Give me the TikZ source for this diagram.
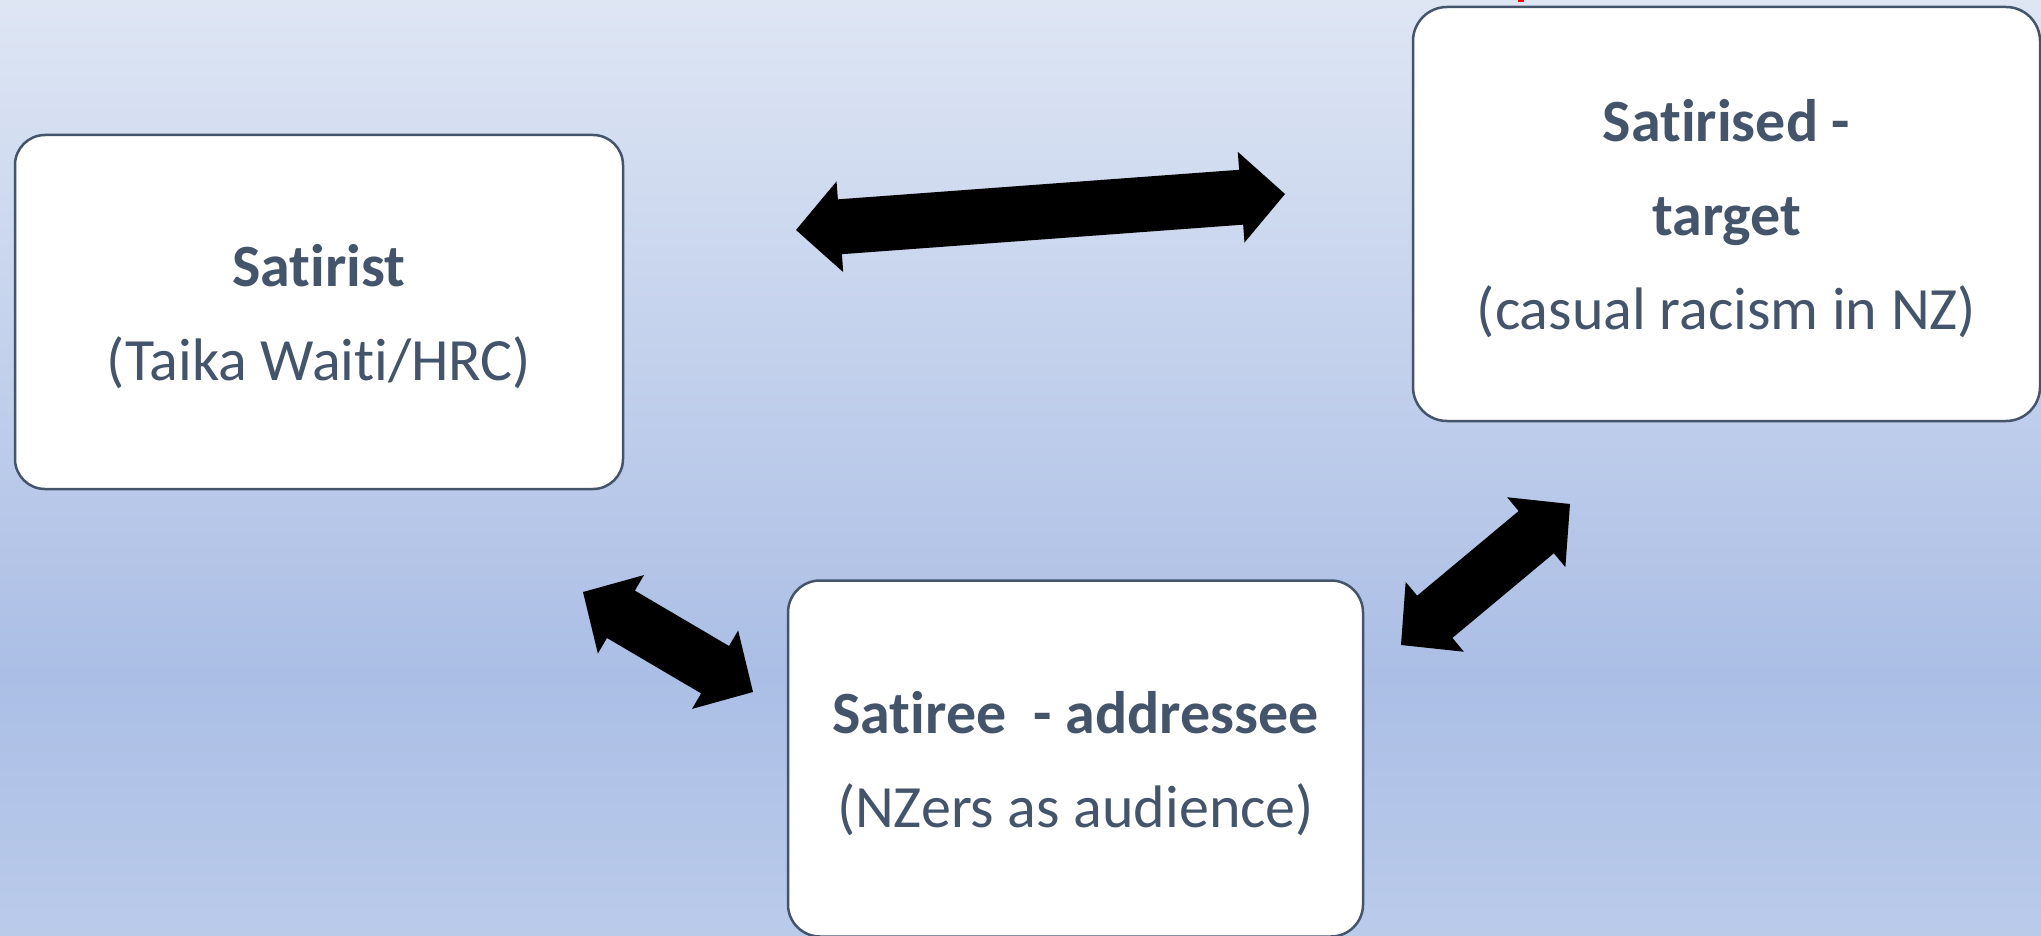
\documentclass[tikz,border=0pt]{standalone}
\usepackage{fontspec}
\setmainfont{Carlito}[Ligatures={NoCommon,NoRequired,NoContextual}]
\usetikzlibrary{calc}

\definecolor{ink}{HTML}{44546A}
\definecolor{bgtop}{RGB}{222,230,244}
\definecolor{bgmid}{RGB}{171,190,229}
\definecolor{bgbot}{RGB}{186,203,234}
% axis shadings are fitted to the middle half (25bp--75bp) of their extent
\pgfdeclareverticalshading{skyfade}{100bp}{color(0bp)=(bgbot); color(25bp)=(bgbot); color(39bp)=(bgmid); color(75bp)=(bgtop); color(100bp)=(bgtop)}

\tikzset{
  card/.style={draw=ink, line width=2.5pt, fill=white, inner sep=0pt,
    text=ink, align=center, font=\fontsize{60}{94}\selectfont},
  fatarrow/.style={fill=black}
}

% keeps t and i as separate glyphs
\newcommand\sep{\kern0pt}
% first-line strut
\newcommand\topstrut{\rule{0pt}{52pt}}

% Double-headed block arrow between two tip coordinates
\newcommand\blockarrow[2]{%
  \fill[fatarrow] (#1)
    -- ($(#1)!44pt!(#2)!45.5pt!90:(#2)$)
    -- ($(#1)!44pt!(#2)!27.5pt!90:(#2)$)
    -- ($(#2)!44pt!(#1)!27.5pt!-90:(#1)$)
    -- ($(#2)!44pt!(#1)!45.5pt!-90:(#1)$)
    -- (#2)
    -- ($(#2)!44pt!(#1)!45.5pt!90:(#1)$)
    -- ($(#2)!44pt!(#1)!27.5pt!90:(#1)$)
    -- ($(#1)!44pt!(#2)!27.5pt!-90:(#2)$)
    -- ($(#1)!44pt!(#2)!45.5pt!-90:(#2)$)
    -- cycle;}

\begin{document}
\begin{tikzpicture}[x=1pt, y=-1pt]
  \useasboundingbox (0,0) rectangle (2041,936);
  \shade[shading=skyfade] (0,0) rectangle (2041,936);
  \fill[red] (1518,0) rectangle (1524,2.5);

  % the three parties
  \node[card, rounded corners=30pt, minimum width=608pt, minimum height=354pt]
    (satirist) at (319,312)
    {\topstrut\textbf{Sat\sep irist}\\(Taika Wait\sep i/HRC)};
  \node[card, rounded corners=34pt, minimum width=627pt, minimum height=414pt]
    (target) at (1726.5,214)
    {\topstrut\textbf{Sat\sep irised -}\\\textbf{target}\\(casual racism in NZ)};
  \node[card, rounded corners=32pt, minimum width=575pt, minimum height=356pt]
    (satiree) at (1075.5,758.5)
    {\topstrut\textbf{Sat\sep iree~ - addressee}\\(NZers as audience)};

  % arrow tips
  \coordinate (top-a) at (796,230);
  \coordinate (top-b) at (1285,194);
  \coordinate (right-a) at (1401,645);
  \coordinate (right-b) at (1570,504);
  \coordinate (left-a) at (583,592);
  \coordinate (left-b) at (753,692);

  \blockarrow{top-a}{top-b}
  \blockarrow{right-a}{right-b}
  \blockarrow{left-a}{left-b}
\end{tikzpicture}
\end{document}
